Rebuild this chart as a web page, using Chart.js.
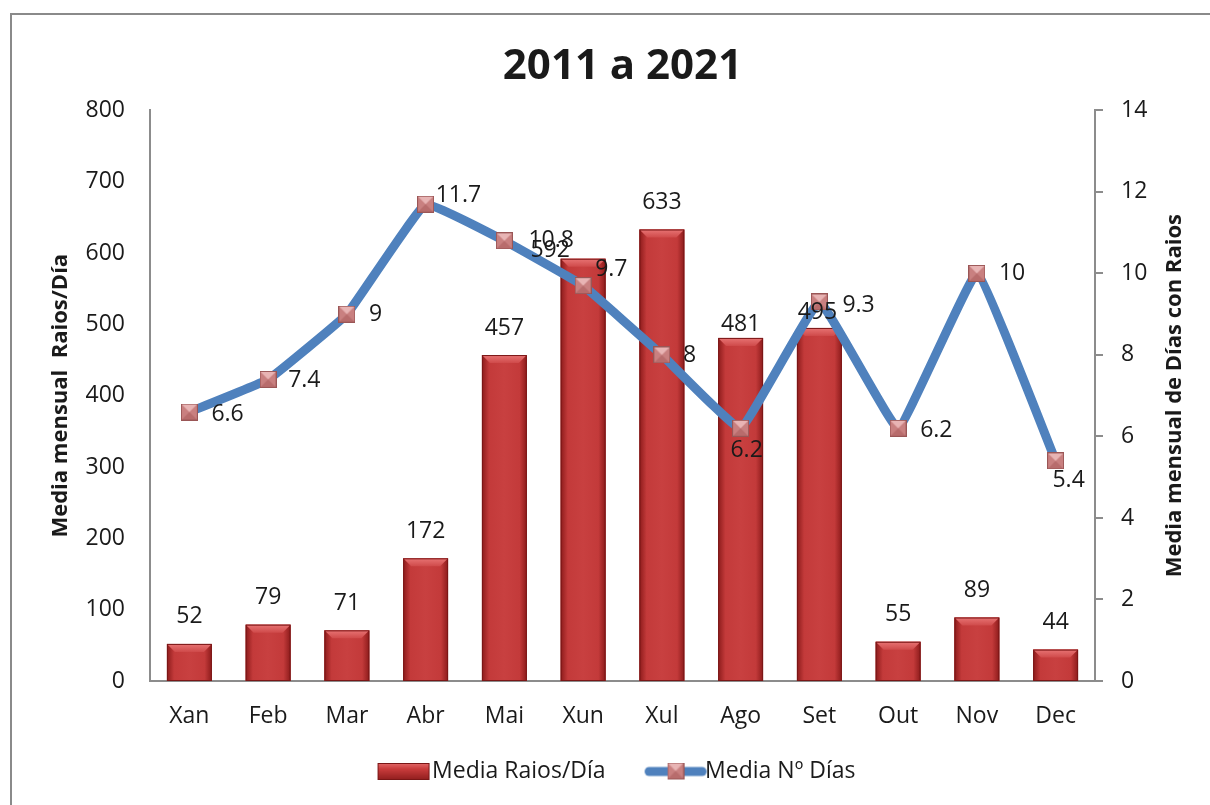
<!DOCTYPE html>
<html>
<head>
<meta charset="utf-8">
<script src="https://cdn.jsdelivr.net/npm/chart.js@4.4.0/dist/chart.umd.min.js"></script>
<style>
  html, body { margin: 0; padding: 0; background: #fff; }
  #wrap { position: relative; width: 1210px; height: 805px; }
</style>
</head>
<body>
<div id="wrap"><canvas id="raios_canvas" width="1210" height="805"></canvas></div>
<script>
const months = ['Xan', 'Feb', 'Mar', 'Abr', 'Mai', 'Xun', 'Xul', 'Ago', 'Set', 'Out', 'Nov', 'Dec'];
const raiosDia = [52, 79, 71, 172, 457, 592, 633, 481, 495, 55, 89, 44];
const diasRaios = [6.6, 7.4, 9, 11.7, 10.8, 9.7, 8, 6.2, 9.3, 6.2, 10, 5.4];
const leftTicks = [0, 100, 200, 300, 400, 500, 600, 700, 800];
const rightTicks = [0, 2, 4, 6, 8, 10, 12, 14];

// where each label sits relative to its bar top / marker (as in the original)
const barLabelShift = [[0,-27],[0,-27],[0,-27],[0,-27],[0,-27],[-33,-8],[0,-27],[0,-13],[-2,-15],[0,-27],[0,-27],[0,-27]];
const lineLabelShift = [[22,2,'left'],[20,1,'left'],[22,0,'left'],[10,-9,'left'],[24,0,'left'],[12,-16,'left'],
                        [21,1,'left'],[6,22,'center'],[23,3,'left'],[22,2,'left'],[22,0,'left'],[13,20,'center']];

const FONT = "'Open Sans', 'Liberation Sans', sans-serif";
const TXT = '#1a1a1a';
const AXIS = '#8c8c8c';
const rightTitle = 'Media mensual de Días con Raios';

// marker with the little pyramid shading
function makeMarker(s) {
  const c = document.createElement('canvas');
  c.width = s; c.height = s;
  const g = c.getContext('2d');
  g.fillStyle = '#c98080';
  g.fillRect(0, 0, s, s);
  g.fillStyle = '#e8b4b4';
  g.beginPath(); g.moveTo(1, 1); g.lineTo(s - 1, 1); g.lineTo(s / 2, s / 2); g.closePath(); g.fill();
  g.fillStyle = '#b86c6c';
  g.beginPath(); g.moveTo(1, s - 1); g.lineTo(s - 1, s - 1); g.lineTo(s / 2, s / 2); g.closePath(); g.fill();
  g.strokeStyle = '#9a5656';
  g.lineWidth = 1;
  g.strokeRect(0.5, 0.5, s - 1, s - 1);
  return c;
}
const marker = makeMarker(17);

// legend icons: the canvas is centred on the legend box, so the drawing sits in its right part
function barIcon() {
  const c = document.createElement('canvas');
  c.width = 88; c.height = 17;
  const g = c.getContext('2d');
  const gr = g.createLinearGradient(0, 0, 0, 17);
  gr.addColorStop(0, '#e36a6a'); gr.addColorStop(0.35, '#c93c3c'); gr.addColorStop(1, '#8f1d1d');
  g.fillStyle = gr; g.fillRect(34, 0, 52, 17);
  g.strokeStyle = '#7a1616'; g.strokeRect(34.5, 0.5, 51, 16);
  return c;
}
function lineIcon() {
  const c = document.createElement('canvas');
  c.width = 94; c.height = 18;
  const g = c.getContext('2d');
  g.strokeStyle = '#4f81bd'; g.lineWidth = 9; g.lineCap = 'round';
  g.beginPath(); g.moveTo(35.5, 9); g.lineTo(88.5, 9); g.stroke();
  g.drawImage(marker, 53.5, 0);
  return c;
}

const frame = {
  id: 'frame',
  beforeDraw(chart) {
    const g = chart.ctx;
    g.save();
    g.fillStyle = '#fff';
    g.fillRect(0, 0, chart.width, chart.height);
    g.strokeStyle = '#8a8a8a';
    g.lineWidth = 2;
    g.strokeRect(11, 14, 1300, 900);
    g.restore();
  },
  afterDraw(chart) {
    // right axis title reads bottom-to-top like the left one
    const a = chart.chartArea;
    const g = chart.ctx;
    g.save();
    g.translate(1175, (a.top + a.bottom) / 2);
    g.rotate(-Math.PI / 2);
    g.font = 'bold 22px ' + FONT;
    g.fillStyle = TXT;
    g.textAlign = 'center';
    g.textBaseline = 'middle';
    g.fillText(rightTitle, 0, 0);
    g.restore();
  }
};

// bevelled look for the bars, drawn over the bar elements right after they are painted
const bevel = {
  id: 'bevel',
  afterDatasetDraw(chart, args) {
    if (args.index !== 0) return;
    const g = chart.ctx;
    g.save();
    args.meta.data.forEach(bar => {
      const {x, y, base, width} = bar.getProps(['x', 'y', 'base', 'width'], true);
      const l = x - width / 2, r = x + width / 2, h = base - y;
      const gr = g.createLinearGradient(l, 0, r, 0);
      gr.addColorStop(0, '#8c1b1b');
      gr.addColorStop(0.16, '#c33a3a');
      gr.addColorStop(0.5, '#c84040');
      gr.addColorStop(0.84, '#c33a3a');
      gr.addColorStop(1, '#8c1b1b');
      g.fillStyle = gr;
      g.fillRect(l, y, width, h);
      const b = Math.min(8, h / 2);
      const tg = g.createLinearGradient(0, y, 0, y + b);
      tg.addColorStop(0, '#e87474');
      tg.addColorStop(1, '#cf4a4a');
      g.fillStyle = tg;
      g.beginPath();
      g.moveTo(l, y); g.lineTo(r, y); g.lineTo(r - b, y + b); g.lineTo(l + b, y + b); g.closePath();
      g.fill();
      g.strokeStyle = '#7a1616';
      g.lineWidth = 1;
      g.strokeRect(l + 0.5, y + 0.5, width - 1, h - 1);
    });
    g.restore();
  }
};

const valueLabels = {
  id: 'valueLabels',
  afterDatasetsDraw(chart) {
    const g = chart.ctx;
    g.save();
    g.font = '23px ' + FONT;
    g.fillStyle = TXT;
    g.textBaseline = 'middle';
    chart.getDatasetMeta(0).data.forEach((bar, i) => {
      g.textAlign = 'center';
      g.fillText(String(raiosDia[i]), bar.x + barLabelShift[i][0], bar.y + barLabelShift[i][1]);
    });
    chart.getDatasetMeta(1).data.forEach((pt, i) => {
      const s = lineLabelShift[i];
      g.textAlign = s[2];
      g.fillText(String(diasRaios[i]), pt.x + s[0], pt.y + s[1]);
    });
    g.restore();
  }
};

const ctx = document.getElementById('raios_canvas').getContext('2d');

const chartData = {
  labels: months,
  datasets: [{
    type: 'bar',
    label: 'Media Raios/Día',
    data: raiosDia,
    yAxisID: 'y',
    backgroundColor: '#c33a3a',
    borderWidth: 0,
    barPercentage: 0.57,
    categoryPercentage: 1,
    order: 2
  }, {
    type: 'line',
    label: 'Media Nº Días',
    data: diasRaios,
    yAxisID: 'y1',
    borderColor: '#4f81bd',
    borderWidth: 9,
    tension: 0.08,
    pointStyle: marker,
    pointRadius: 9,
    borderCapStyle: 'round',
    borderJoinStyle: 'miter',
    order: 1
  }]
};

const config = {
  type: 'bar',
  data: chartData,
  options: {
    responsive: false,
    animation: false,
    layout: { padding: { left: 0, right: 0, top: 0, bottom: 12 } },
    scales: {
      x: {
        grid: { display: false, drawTicks: false },
        border: { display: true, color: AXIS, width: 2 },
        ticks: { color: TXT, font: { family: FONT, size: 23 }, padding: 22 },
        afterFit(scale) { scale.height = 57; }
      },
      y: {
        position: 'left',
        min: 0, max: 800,
        afterBuildTicks(scale) { scale.ticks = leftTicks.map(v => ({ value: v })); },
        grid: { display: false, drawTicks: false },
        border: { display: true, color: AXIS, width: 2 },
        ticks: { color: TXT, font: { family: FONT, size: 23 }, padding: 25 },
        title: {
          display: true,
          text: 'Media mensual  Raios/Día',
          color: TXT,
          font: { family: FONT, size: 22, weight: 'bold' },
          padding: { top: 48, bottom: 0 }
        },
        afterFit(scale) { scale.width = 150; }
      },
      y1: {
        position: 'right',
        min: 0, max: 14,
        afterBuildTicks(scale) { scale.ticks = rightTicks.map(v => ({ value: v })); },
        grid: { display: true, drawOnChartArea: false, drawTicks: true, tickLength: 8, color: AXIS, lineWidth: 2 },
        border: { display: true, color: AXIS, width: 2 },
        ticks: { color: TXT, font: { family: FONT, size: 23 }, padding: 18 },
        afterFit(scale) { scale.width = 115; }
      }
    },
    plugins: {
      title: {
        display: true,
        fullSize: false,
        text: '2011 a 2021',
        color: TXT,
        font: { family: FONT, size: 42, weight: 'bold' },
        padding: { top: 42, bottom: 18 }
      },
      legend: {
        display: true,
        fullSize: true,
        position: 'bottom',
        labels: {
          color: TXT,
          font: { family: FONT, size: 23 },
          usePointStyle: true,
          pointStyleWidth: 66,
          padding: 22,
          generateLabels() {
            return [
              { text: 'Media Raios/Día', pointStyle: barIcon(), datasetIndex: 0, hidden: false, fontColor: TXT, lineWidth: 0 },
              { text: 'Media Nº Días', pointStyle: lineIcon(), datasetIndex: 1, hidden: false, fontColor: TXT, lineWidth: 0 }
            ];
          }
        }
      },
      tooltip: { enabled: false }
    }
  },
  plugins: [frame, bevel, valueLabels]
};

const myChart = new Chart(ctx, config);
</script>
</body>
</html>
